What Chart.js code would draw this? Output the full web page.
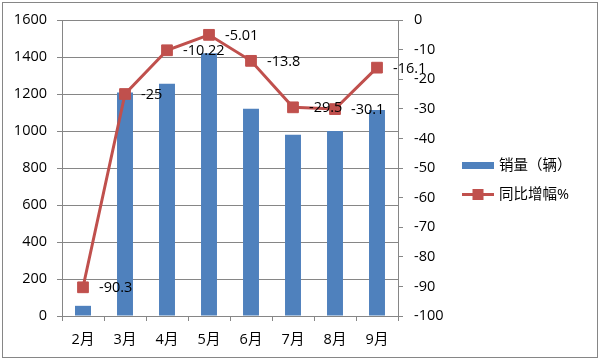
<!DOCTYPE html>
<html>
<head>
<meta charset="utf-8">
<script src="https://cdn.jsdelivr.net/npm/chart.js@4/dist/chart.umd.min.js"></script>
<style>
html,body{margin:0;padding:0;background:#fff;}
#wrap{width:600px;height:361px;}
</style>
</head>
<body>
<div id="wrap"><canvas id="c" width="600" height="361"></canvas></div>
<script>
const categories = ['2月','3月','4月','5月','6月','7月','8月','9月'];
const salesValues = [55, 1208, 1255, 1420, 1120, 980, 1000, 1113];
const growthValues = [-90.3, -25, -10.22, -5.01, -13.8, -29.5, -30.1, -16.1];
const growthLabels = ['-90.3', '-25', '-10.22', '-5.01', '-13.8', '-29.5', '-30.1', '-16.1'];
const seriesNames = ['销量（辆）', '同比增幅%'];

const BAR = '#4F81BD';
const RED = '#C0504D';
const GRID = '#868686';
const FONT_FAMILY = '"Open Sans", "Noto Sans CJK SC", sans-serif';
const FS = 14.5;

const framePlugin = {
  id: 'frame',
  beforeDraw(chart) {
    const ctx = chart.ctx;
    ctx.save();
    ctx.fillStyle = '#fff';
    ctx.fillRect(0, 0, chart.width, chart.height);
    ctx.strokeStyle = GRID;
    ctx.lineWidth = 1;
    ctx.strokeRect(2.5, 2.5, 595, 355);
    ctx.restore();
  }
};

const labelPlugin = {
  id: 'pointLabels',
  afterDatasetsDraw(chart) {
    const meta = chart.getDatasetMeta(1);
    const ctx = chart.ctx;
    ctx.save();
    ctx.font = FS + 'px ' + FONT_FAMILY;
    ctx.fillStyle = '#000';
    ctx.textAlign = 'left';
    ctx.textBaseline = 'middle';
    meta.data.forEach((pt, i) => {
      const p = pt.getProps(['x','y'], true);
      ctx.fillText(growthLabels[i], p.x + 16, p.y + 1);
    });
    ctx.restore();
  }
};

// legend at the right of the right axis (Excel style: bar swatch, line with marker)
const legendPlugin = {
  id: 'sideLegend',
  afterDraw(chart) {
    const ctx = chart.ctx;
    const ds = chart.data.datasets;
    const x0 = chart.scales.y1.right + 14;
    const yMid = chart.height / 2;
    const rows = [yMid - 15, yMid + 14];
    ctx.save();
    ctx.font = FS + 'px ' + FONT_FAMILY;
    ctx.textAlign = 'left';
    ctx.textBaseline = 'middle';
    ctx.fillStyle = ds[0].backgroundColor;
    ctx.fillRect(x0, rows[0] - 3.5, 32, 7);
    ctx.fillStyle = '#000';
    ctx.fillText(ds[0].label, x0 + 37, rows[0]);
    ctx.strokeStyle = ds[1].borderColor;
    ctx.lineWidth = 3;
    ctx.beginPath();
    ctx.moveTo(x0, rows[1]);
    ctx.lineTo(x0 + 32, rows[1]);
    ctx.stroke();
    ctx.fillStyle = ds[1].pointBackgroundColor;
    ctx.fillRect(x0 + 10.5, rows[1] - 5.5, 11, 11);
    ctx.fillStyle = '#000';
    ctx.fillText(ds[1].label, x0 + 37, rows[1]);
    ctx.restore();
  }
};

const chart = new Chart(document.getElementById('c'), {
  data: {
    labels: categories,
    datasets: [
      {
        type: 'bar',
        label: seriesNames[0],
        data: salesValues,
        backgroundColor: BAR,
        borderWidth: 0,
        yAxisID: 'y',
        order: 1,
        categoryPercentage: 1.0,
        barPercentage: 0.38
      },
      {
        type: 'line',
        label: seriesNames[1],
        data: growthValues,
        borderColor: RED,
        backgroundColor: RED,
        borderWidth: 3,
        pointStyle: 'rect',
        pointRadius: 7.6,
        pointBorderWidth: 1,
        pointBackgroundColor: RED,
        pointBorderColor: RED,
        tension: 0,
        yAxisID: 'y1',
        order: 0
      }
    ]
  },
  options: {
    responsive: false,
    animation: false,
    devicePixelRatio: 1,
    layout: { padding: { left: 0, top: 20, right: 151.5, bottom: 0 } },
    font: { family: FONT_FAMILY, size: FS },
    plugins: {
      tooltip: { enabled: false },
      legend: { display: false }
    },
    scales: {
      x: {
        type: 'category',
        offset: true,
        grid: { display: true, drawOnChartArea: false, drawTicks: true, tickLength: 5, color: GRID, offset: true },
        border: { display: true, color: GRID },
        ticks: { color: '#000', padding: 10, font: { family: FONT_FAMILY, size: FS }, maxRotation: 0 },
        afterFit(s) { s.height = 45; }
      },
      y: {
        type: 'linear',
        position: 'left',
        min: 0,
        max: 1600,
        grid: { color: GRID, tickLength: 5, drawTicks: true },
        border: { display: true, color: GRID },
        ticks: { stepSize: 200, color: '#000', padding: 10, font: { family: FONT_FAMILY, size: FS },
                 callback: v => String(v) },
        afterFit(s) { s.width = 62; }
      },
      y1: {
        type: 'linear',
        position: 'right',
        min: -100,
        max: 0,
        grid: { drawOnChartArea: false, tickLength: 5, drawTicks: true, color: GRID },
        border: { display: true, color: GRID },
        ticks: { stepSize: 10, color: '#000', padding: 11, font: { family: FONT_FAMILY, size: FS },
                 callback: v => String(v) },
        afterFit(s) { s.width = 50; }
      }
    }
  },
  plugins: [framePlugin, labelPlugin, legendPlugin]
});

const dx = chart.chartArea.right - 398;
if (Math.abs(dx) > 0.2) {
  chart.options.layout.padding.right += dx;
  chart.update('none');
}
</script>
</body>
</html>
